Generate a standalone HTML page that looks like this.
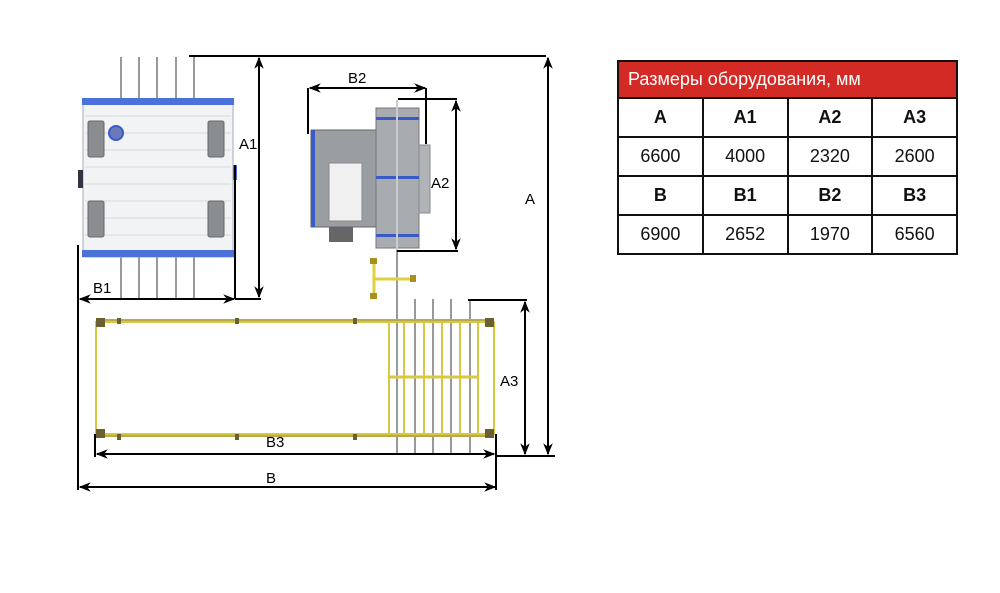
<!DOCTYPE html>
<html><head><meta charset="utf-8"><style>
html,body{margin:0;padding:0;background:#fff;}
body{width:1000px;height:593px;position:relative;overflow:hidden;font-family:"Liberation Sans",sans-serif;}
table{position:absolute;left:617px;top:60px;border-collapse:collapse;width:341px;}
td{border:2px solid #111;text-align:center;font-size:18px;color:#111;height:37px;width:81px;padding:0;}
td.h{background:#d42a26;color:#fff;text-align:left;padding-left:9px;font-size:18px;height:35px;}
td.b{font-weight:bold;}
</style></head><body>
<svg width="1000" height="593" style="position:absolute;left:0;top:0" xmlns="http://www.w3.org/2000/svg">
<defs>
<marker id="ar" viewBox="0 0 10 10" refX="9" refY="5" markerWidth="6" markerHeight="6" orient="auto-start-reverse"><path d="M0,1 L10,5 L0,9 L3,5 Z" fill="#000"/></marker>
</defs>
<g stroke="#999" stroke-width="2">
<line x1="121" y1="57" x2="121" y2="298"/><line x1="139" y1="57" x2="139" y2="298"/><line x1="157" y1="57" x2="157" y2="298"/><line x1="176" y1="57" x2="176" y2="298"/><line x1="194" y1="57" x2="194" y2="298"/>
<line x1="397" y1="100" x2="397" y2="455"/>
<line x1="415" y1="299" x2="415" y2="455"/><line x1="433" y1="299" x2="433" y2="455"/><line x1="451" y1="299" x2="451" y2="455"/><line x1="470" y1="299" x2="470" y2="455"/>
</g>
<rect x="83" y="99" width="150" height="158" fill="#f1f3f5" stroke="#aab" stroke-width="1"/>
<g stroke="#d8dbe0" stroke-width="1"><line x1="85" y1="116" x2="231" y2="116"/><line x1="85" y1="133" x2="231" y2="133"/><line x1="85" y1="150" x2="231" y2="150"/><line x1="85" y1="167" x2="231" y2="167"/><line x1="85" y1="184" x2="231" y2="184"/><line x1="85" y1="201" x2="231" y2="201"/><line x1="85" y1="218" x2="231" y2="218"/><line x1="85" y1="235" x2="231" y2="235"/></g>
<rect x="82" y="98" width="152" height="7" fill="#4a72d8"/>
<rect x="82" y="250" width="152" height="7" fill="#4a72d8"/>
<rect x="78" y="170" width="5" height="18" fill="#334"/>
<rect x="233" y="165" width="4" height="15" fill="#4a72d8"/>
<g fill="#8a8d90" stroke="#666"><rect x="88" y="121" width="16" height="36" rx="2"/><rect x="208" y="121" width="16" height="36" rx="2"/><rect x="88" y="201" width="16" height="36" rx="2"/><rect x="208" y="201" width="16" height="36" rx="2"/></g>
<circle cx="116" cy="133" r="7" fill="#6a7ab8" stroke="#3a5ac8" stroke-width="2"/>
<rect x="329" y="225" width="24" height="17" fill="#666"/>
<rect x="311" y="130" width="65" height="97" fill="#9a9ea2" stroke="#666"/>
<rect x="311" y="130" width="4" height="97" fill="#3a5ac8"/>
<rect x="329" y="163" width="33" height="58" fill="#f0f0f0" stroke="#888"/>
<rect x="376" y="108" width="43" height="140" fill="#a8acb0" stroke="#777"/>
<rect x="419" y="145" width="11" height="68" fill="#b0b4b8" stroke="#888"/>
<g fill="#3a5ac8"><rect x="376" y="117" width="43" height="3"/><rect x="376" y="176" width="43" height="3"/><rect x="376" y="234" width="43" height="3"/></g>
<line x1="397" y1="100" x2="397" y2="250" stroke="#ccc" stroke-width="2"/>
<g stroke="#e0d040" stroke-width="3" fill="none"><line x1="374" y1="261" x2="374" y2="296"/><line x1="374" y1="279" x2="413" y2="279"/></g>
<g fill="#a89020"><rect x="370" y="258" width="7" height="6"/><rect x="370" y="293" width="7" height="6"/><rect x="410" y="275" width="6" height="7"/></g>
<g stroke="#d8c840" stroke-width="2" fill="none">
<rect x="96" y="322" width="398" height="112"/>
<line x1="96" y1="320" x2="494" y2="320" stroke="#b8a850"/>
<line x1="96" y1="436" x2="494" y2="436" stroke="#b8a850"/>
<line x1="389" y1="322" x2="389" y2="434"/><line x1="404" y1="322" x2="404" y2="434"/><line x1="424" y1="322" x2="424" y2="434"/><line x1="442" y1="322" x2="442" y2="434"/><line x1="460" y1="322" x2="460" y2="434"/><line x1="478" y1="322" x2="478" y2="434"/>
<line x1="389" y1="377" x2="478" y2="377" stroke-width="3"/>
</g>
<g fill="#6a6030"><rect x="96" y="318" width="9" height="9"/><rect x="96" y="429" width="9" height="9"/><rect x="485" y="318" width="9" height="9"/><rect x="485" y="429" width="9" height="9"/>
<rect x="117" y="318" width="4" height="6"/><rect x="235" y="318" width="4" height="6"/><rect x="353" y="318" width="4" height="6"/><rect x="117" y="434" width="4" height="6"/><rect x="235" y="434" width="4" height="6"/><rect x="353" y="434" width="4" height="6"/></g>
<g stroke="#000" stroke-width="2" fill="none">
<line x1="189" y1="56" x2="546" y2="56"/>
<line x1="259" y1="58" x2="259" y2="297" marker-start="url(#ar)" marker-end="url(#ar)"/>
<line x1="235" y1="299" x2="261" y2="299"/>
<line x1="235" y1="165" x2="235" y2="299"/>
<line x1="80" y1="299" x2="234" y2="299" marker-start="url(#ar)" marker-end="url(#ar)"/>
<line x1="78" y1="245" x2="78" y2="490"/>
<line x1="308" y1="134" x2="308" y2="88"/>
<line x1="310" y1="88" x2="425" y2="88" marker-start="url(#ar)" marker-end="url(#ar)"/>
<line x1="426" y1="88" x2="426" y2="144"/>
<line x1="398" y1="99" x2="457" y2="99"/>
<line x1="456" y1="101" x2="456" y2="249" marker-start="url(#ar)" marker-end="url(#ar)"/>
<line x1="397" y1="251" x2="458" y2="251"/>
<line x1="548" y1="58" x2="548" y2="454" marker-start="url(#ar)" marker-end="url(#ar)"/>
<line x1="468" y1="300" x2="527" y2="300"/>
<line x1="525" y1="302" x2="525" y2="454" marker-start="url(#ar)" marker-end="url(#ar)"/>
<line x1="496" y1="456" x2="555" y2="456"/>
<line x1="95" y1="434" x2="95" y2="457"/>
<line x1="97" y1="454" x2="494" y2="454" marker-start="url(#ar)" marker-end="url(#ar)"/>
<line x1="496" y1="434" x2="496" y2="490"/>
<line x1="80" y1="487" x2="495" y2="487" marker-start="url(#ar)" marker-end="url(#ar)"/>
</g>
<g font-family="Liberation Sans, sans-serif" font-size="15" fill="#000">
<text x="239" y="149">A1</text>
<text x="93" y="293">B1</text>
<text x="348" y="83">B2</text>
<text x="431" y="188">A2</text>
<text x="525" y="204">A</text>
<text x="500" y="386">A3</text>
<text x="266" y="447">B3</text>
<text x="266" y="483">B</text>
</g>
</svg>
<table>
<tr><td class="h" colspan="4">Размеры оборудования, мм</td></tr>
<tr><td class="b">A</td><td class="b">A1</td><td class="b">A2</td><td class="b">A3</td></tr>
<tr><td>6600</td><td>4000</td><td>2320</td><td>2600</td></tr>
<tr><td class="b">B</td><td class="b">B1</td><td class="b">B2</td><td class="b">B3</td></tr>
<tr><td>6900</td><td>2652</td><td>1970</td><td>6560</td></tr>
</table>
</body></html>
